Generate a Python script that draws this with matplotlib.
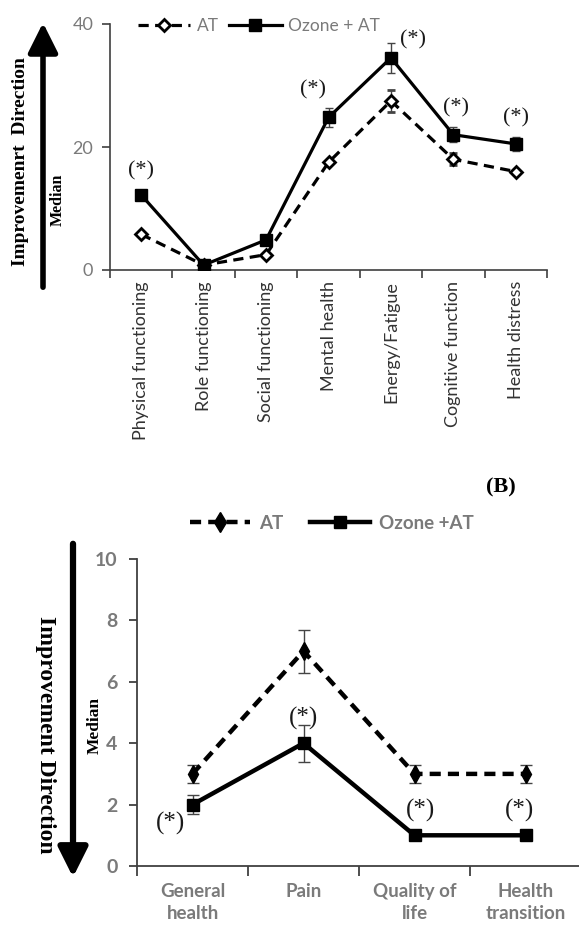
import matplotlib
matplotlib.use("Agg")
import matplotlib.pyplot as plt
from matplotlib.patches import FancyArrowPatch
from matplotlib.lines import Line2D
import numpy as np

# ---------------- data ----------------
top_categories = ["Physical functioning", "Role functioning", "Social functioning",
                  "Mental health", "Energy/Fatigue", "Cognitive function", "Health distress"]
top_at = [5.8, 0.8, 2.5, 17.5, 27.5, 18.0, 16.0]
top_at_err = [0.0, 0.0, 0.0, 0.0, 1.8, 1.0, 0.0]
top_ozone = [12.2, 0.8, 4.9, 24.8, 34.5, 22.0, 20.5]
top_ozone_err = [0.0, 0.0, 0.0, 1.5, 2.4, 1.2, 1.2]
top_sig_x = [0, 3, 4, 5, 6]
top_sig_y = [16.1, 29.3, 37.4, 26.3, 24.7]
top_sig_dx = [0.0, -0.25, 0.35, 0.05, 0.0]
top_yticks = [0, 20, 40]

bot_categories = ["General\nhealth", "Pain", "Quality of\nlife", "Health\ntransition"]
bot_at = [3, 7, 3, 3]
bot_at_err = [0.3, 0.7, 0.3, 0.3]
bot_ozone = [2, 4, 1, 1]
bot_ozone_err = [0.3, 0.6, 0.0, 0.0]
bot_sig_x = [0, 1, 2, 3]
bot_sig_y = [1.4, 4.8, 1.8, 1.8]
bot_sig_dx = [-0.2, 0.0, 0.05, -0.05]
bot_yticks = [0, 2, 4, 6, 8, 10]

W, H = 579, 933
fig = plt.figure(figsize=(W / 100, H / 100), dpi=100)
fig.patch.set_facecolor("white")


def px(x, y):
    return (x / W, 1 - y / H)


def ax_rect(x0, y0, x1, y1):
    return [x0 / W, 1 - y1 / H, (x1 - x0) / W, (y1 - y0) / H]


GRAY = "#7a7a7a"
DARK = "#1a1a1a"
SANS = "Lato"
SERIF = "Liberation Serif"

# ---------------- top panel ----------------
ax1 = fig.add_axes(ax_rect(110, 24, 547, 270))
n1 = len(top_categories)
x1 = np.arange(n1)
ax1.errorbar(x1, top_at, yerr=top_at_err, color="black", lw=2.3,
             linestyle=(0, (3.2, 2)), marker="D", ms=6, mfc="white", mec="black",
             mew=2, ecolor="#444444", elinewidth=1, capsize=3, zorder=3)
ax1.errorbar(x1, top_ozone, yerr=top_ozone_err, color="black", lw=2.3,
             marker="s", ms=8, mfc="black", mec="black",
             ecolor="#444444", elinewidth=1, capsize=3, zorder=4)
for xi, yi, dx in zip(top_sig_x, top_sig_y, top_sig_dx):
    ax1.text(xi + dx, yi, "(*)", ha="center", va="center", fontsize=16,
             family=SERIF, color=DARK)
ax1.set_xlim(-0.5, n1 - 0.5)
ax1.set_ylim(0, 40)
ax1.set_yticks(top_yticks)
ax1.set_xticks(x1)
ax1.set_xticklabels(top_categories, rotation=90, fontsize=13, family=SANS, color="#333333")
ax1.set_xticks(np.arange(-0.5, n1, 1.0), minor=True)
ax1.tick_params(axis="x", which="major", length=0, pad=8)
ax1.tick_params(axis="x", which="minor", length=6, width=1.2, color="#404040", direction="out")
ax1.tick_params(axis="y", length=6, width=1.2, color="#404040", labelsize=13,
                labelcolor=GRAY, pad=6)
for lab in ax1.get_yticklabels():
    lab.set_family(SANS)
for s in ["top", "right"]:
    ax1.spines[s].set_visible(False)
for s in ["left", "bottom"]:
    ax1.spines[s].set_linewidth(1.2)
    ax1.spines[s].set_color("#404040")

h_at = Line2D([], [], color="black", lw=2.3, linestyle=(0, (3.2, 2)), marker="D",
              ms=6, mfc="white", mec="black", mew=2)
h_oz = Line2D([], [], color="black", lw=2.3, marker="s", ms=8, mfc="black")
leg1 = fig.legend([h_at, h_oz], ["AT", "Ozone + AT"], loc="upper left",
                  bbox_to_anchor=px(138, 18), bbox_transform=fig.transFigure,
                  ncol=2, frameon=False, handlelength=3.0, handletextpad=0.4,
                  columnspacing=0.6, borderpad=0, borderaxespad=0,
                  prop={"family": SANS, "size": 12.5})
for t in leg1.get_texts():
    t.set_color(GRAY)

# left decorations top
fig.add_artist(FancyArrowPatch(px(43, 290), px(43, 20), transform=fig.transFigure,
                               arrowstyle="-|>,head_length=0.9,head_width=0.45",
                               mutation_scale=20, lw=4, color="black"))
fig.text(*px(21, 162), "Improvemenrt  Direction", rotation=90, ha="center",
         va="center", fontsize=14, family=SERIF, weight="bold", color="black")
fig.text(*px(58, 200), "Median", rotation=90, ha="center", va="center",
         fontsize=11.5, family=SERIF, weight="bold", color="black")

# (B)
fig.text(*px(501, 487), "(B)", ha="center", va="center", fontsize=16,
         family=SERIF, weight="bold", color="black")

# ---------------- bottom panel ----------------
ax2 = fig.add_axes(ax_rect(137, 559, 581, 866))
n2 = len(bot_categories)
x2 = np.arange(n2)
ax2.errorbar(x2, bot_at, yerr=bot_at_err, color="black", lw=3.2,
             linestyle=(0, (2.5, 1.6)), marker="d", ms=9, mfc="black", mec="black",
             ecolor="#444444", elinewidth=1, capsize=4, zorder=3)
ax2.errorbar(x2, bot_ozone, yerr=bot_ozone_err, color="black", lw=3.2,
             marker="s", ms=9, mfc="black", mec="black",
             ecolor="#444444", elinewidth=1, capsize=4, zorder=4)
for xi, yi, dx in zip(bot_sig_x, bot_sig_y, bot_sig_dx):
    ax2.text(xi + dx, yi, "(*)", ha="center", va="center", fontsize=18,
             family=SERIF, color=DARK)
ax2.set_xlim(-0.5, n2 - 0.5)
ax2.set_ylim(0, 10)
ax2.set_yticks(bot_yticks)
ax2.set_xticks(x2)
ax2.set_xticklabels(bot_categories, fontsize=13.5, family=SANS, color=GRAY,
                    weight="bold", linespacing=1.35)
ax2.set_xticks(np.arange(-0.5, n2, 1.0), minor=True)
ax2.tick_params(axis="x", which="major", length=0, pad=12)
ax2.tick_params(axis="x", which="minor", length=7, width=1.3, color="#404040", direction="out")
ax2.tick_params(axis="y", length=6, width=1.3, color="#404040", labelsize=14,
                labelcolor=GRAY, pad=8)
for lab in ax2.get_yticklabels():
    lab.set_family(SANS)
    lab.set_weight("bold")
for s in ["top", "right"]:
    ax2.spines[s].set_visible(False)
for s in ["left", "bottom"]:
    ax2.spines[s].set_linewidth(1.3)
    ax2.spines[s].set_color("#404040")

h_at2 = Line2D([], [], color="black", lw=3.2, linestyle=(0, (2.5, 1.6)), marker="d",
               ms=10, mfc="black", mec="black")
h_oz2 = Line2D([], [], color="black", lw=3.2, marker="s", ms=9, mfc="black")
leg2 = fig.legend([h_at2, h_oz2], ["AT", "Ozone +AT"], loc="upper left",
                  bbox_to_anchor=px(190, 515), bbox_transform=fig.transFigure,
                  ncol=2, frameon=False, handlelength=3.2, handletextpad=0.5,
                  columnspacing=1.4, borderpad=0, borderaxespad=0,
                  prop={"family": SANS, "size": 13.5, "weight": "bold"})
for t in leg2.get_texts():
    t.set_color(GRAY)

fig.add_artist(FancyArrowPatch(px(73, 541), px(73, 880), transform=fig.transFigure,
                               arrowstyle="-|>,head_length=0.9,head_width=0.45",
                               mutation_scale=20, lw=4.5, color="black"))
fig.text(*px(45, 735), "Improvement Direction", rotation=-90, ha="center",
         va="center", fontsize=17, family=SERIF, weight="bold", color="black")
fig.text(*px(95, 725), "Median", rotation=90, ha="center", va="center",
         fontsize=12.5, family=SERIF, weight="bold", color="black")

fig.savefig("out.png", dpi=100, facecolor="white")
